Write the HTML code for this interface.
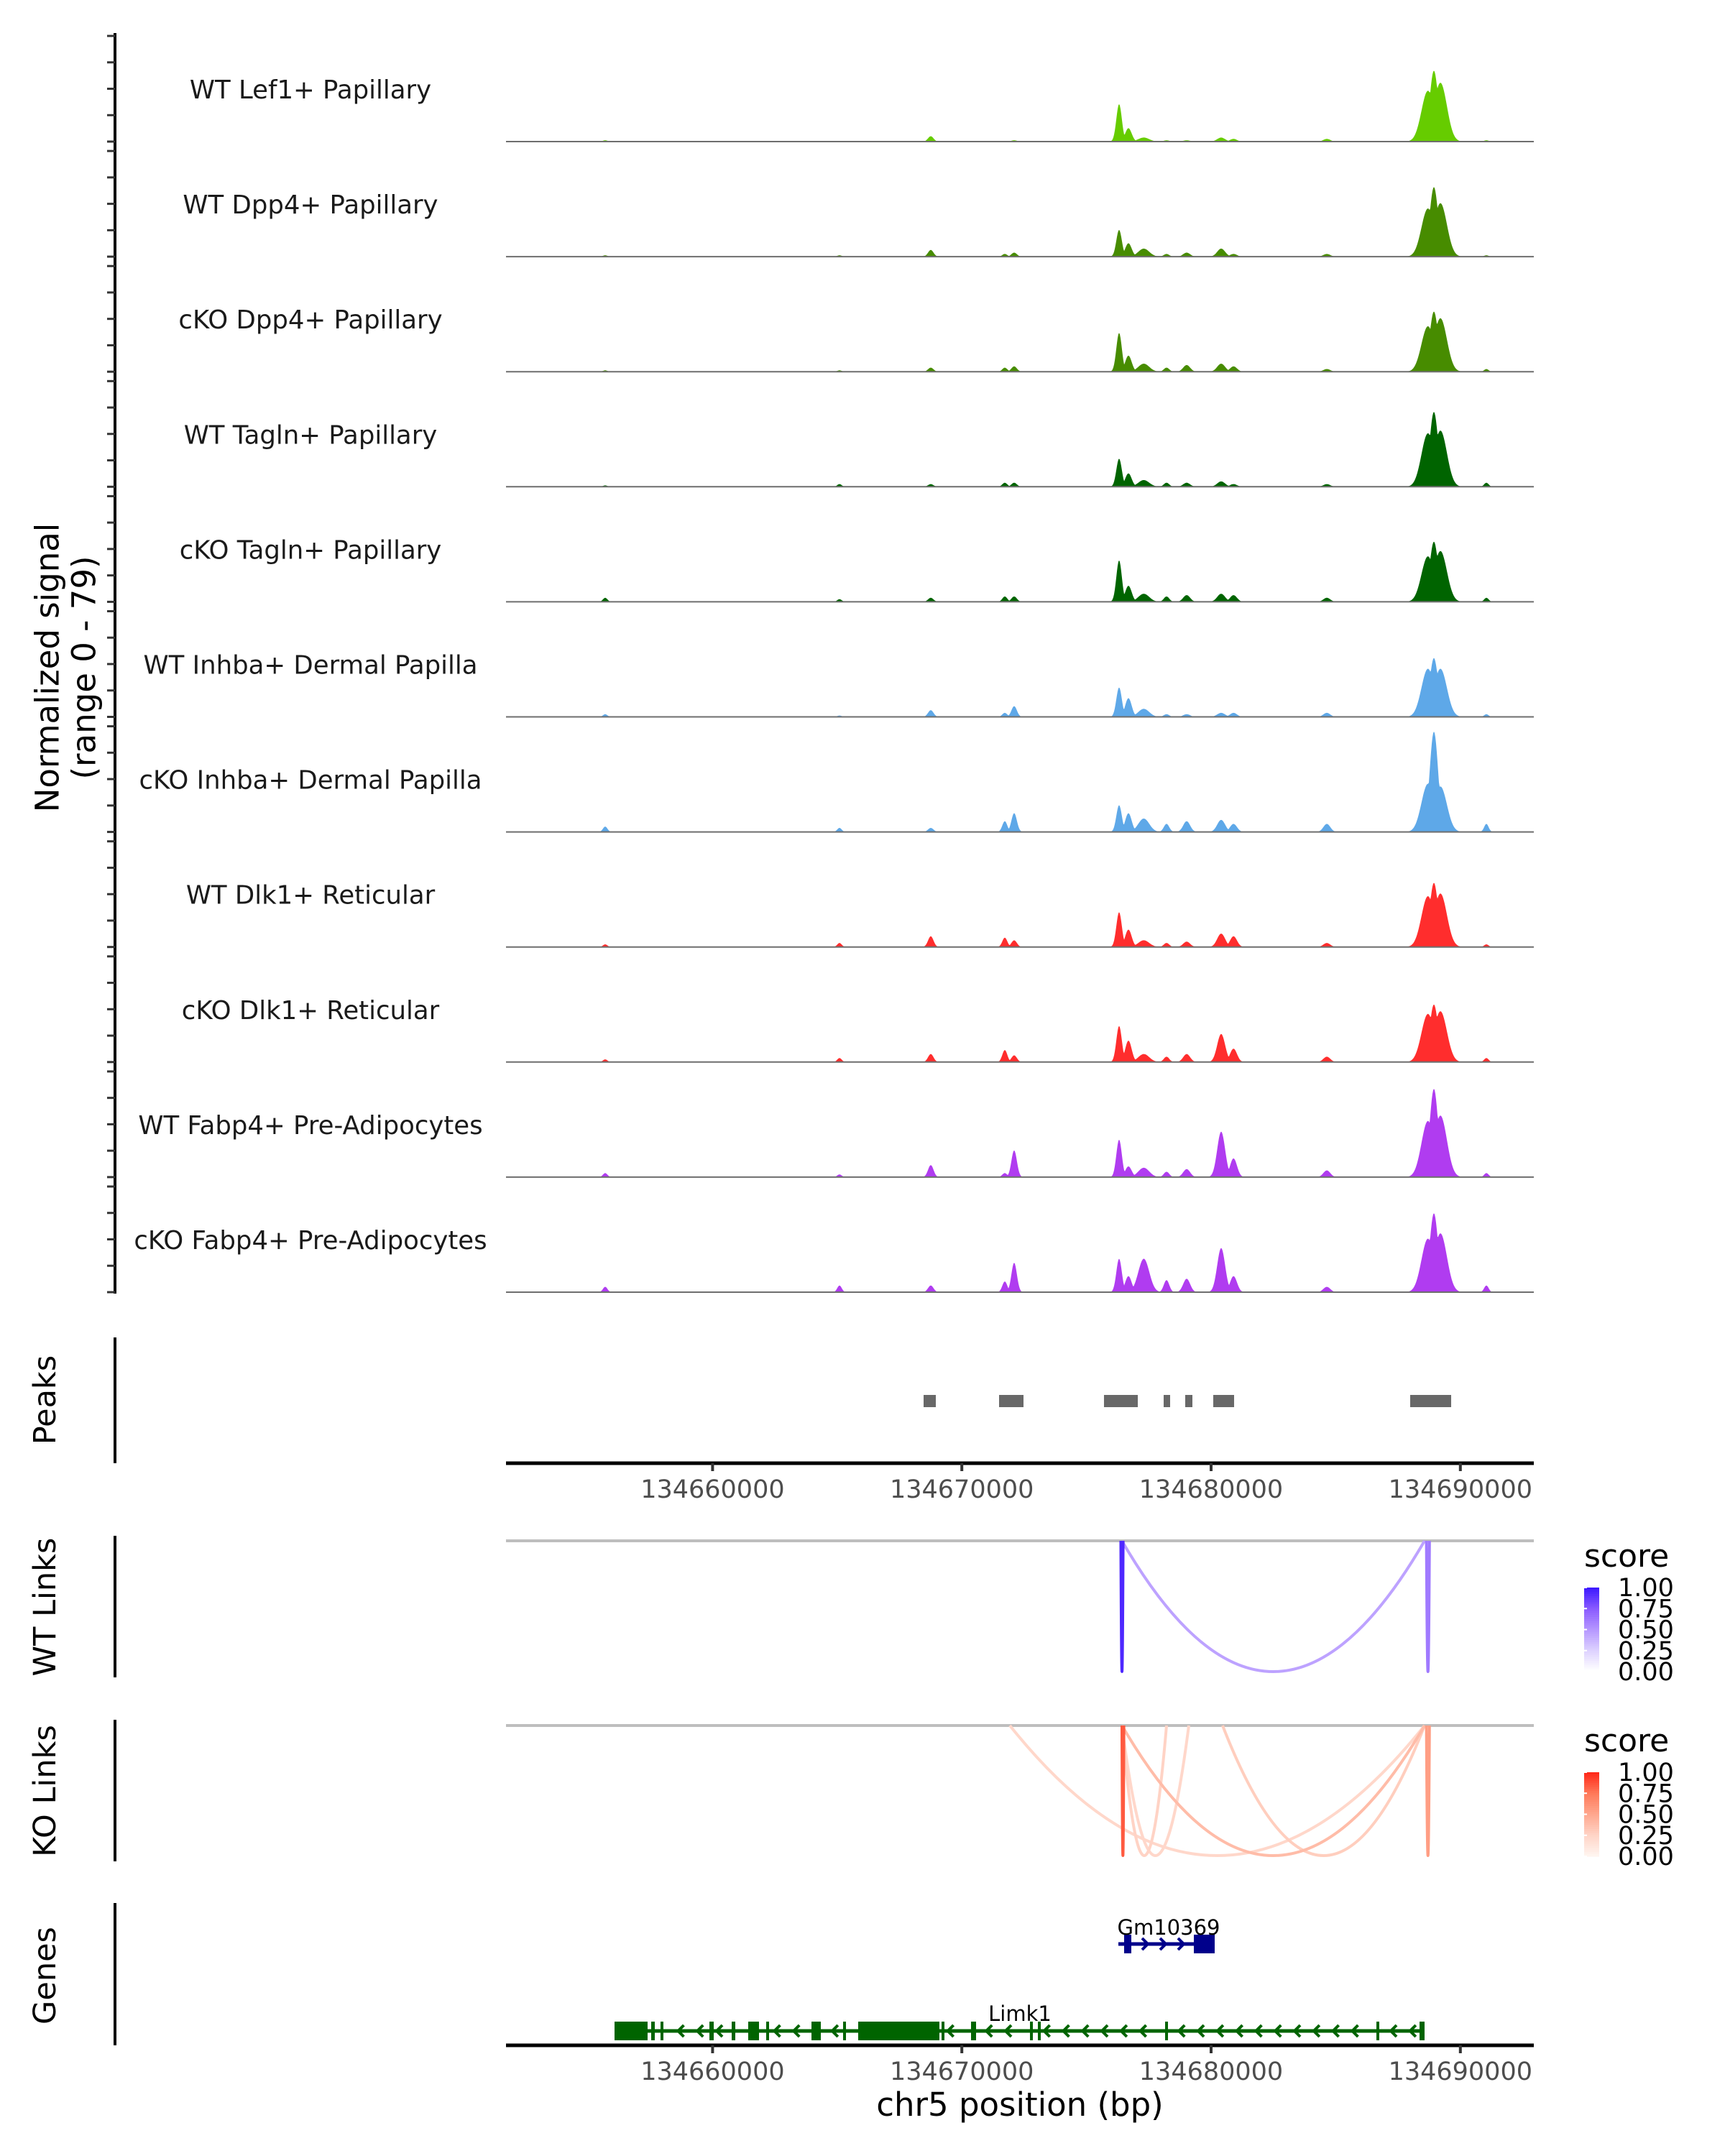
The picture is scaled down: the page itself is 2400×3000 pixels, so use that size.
<!DOCTYPE html>
<html><head><meta charset="utf-8"><style>
html,body{margin:0;padding:0;background:#fff;}
svg{display:block;font-family:"DejaVu Sans","Liberation Sans",sans-serif;}
</style></head><body>
<svg id="fig" width="2400" height="3000" viewBox="0 0 2400 3000" xmlns="http://www.w3.org/2000/svg">
<rect width="2400" height="3000" fill="#fff"/>
<g id="g-axes"></g>
<g id="g-tracks"></g>
<g id="g-peaks"></g>
<g id="g-links"></g>
<g id="g-genes"></g>
<text x="66" y="929" transform="rotate(-90 66 929)" text-anchor="middle" dominant-baseline="central" font-size="45" fill="#000">Normalized signal</text>
<text x="117" y="929" transform="rotate(-90 117 929)" text-anchor="middle" dominant-baseline="central" font-size="45" fill="#000">(range 0 - 79)</text>
<text x="63" y="1948" transform="rotate(-90 63 1948)" text-anchor="middle" dominant-baseline="central" font-size="43" fill="#000">Peaks</text>
<text x="63" y="2236" transform="rotate(-90 63 2236)" text-anchor="middle" dominant-baseline="central" font-size="43" fill="#000">WT Links</text>
<text x="63" y="2492" transform="rotate(-90 63 2492)" text-anchor="middle" dominant-baseline="central" font-size="43" fill="#000">KO Links</text>
<text x="63" y="2749" transform="rotate(-90 63 2749)" text-anchor="middle" dominant-baseline="central" font-size="43" fill="#000">Genes</text>
<text x="1419" y="2944" text-anchor="middle" font-size="45" fill="#000">chr5 position (bp)</text>
</svg>
<script>
const NS="http://www.w3.org/2000/svg";
// ---- data ----
const xTicks=[134660000,134670000,134680000,134690000];
const trackNames=["WT Lef1+ Papillary","WT Dpp4+ Papillary","cKO Dpp4+ Papillary","WT Tagln+ Papillary","cKO Tagln+ Papillary","WT Inhba+ Dermal Papilla","cKO Inhba+ Dermal Papilla","WT Dlk1+ Reticular","cKO Dlk1+ Reticular","WT Fabp4+ Pre-Adipocytes","cKO Fabp4+ Pre-Adipocytes"];
const trackColors=["#66cc00","#478c00","#478c00","#006400","#006400","#5ea8e8","#5ea8e8","#ff2d2d","#ff2d2d","#b03cf0","#b03cf0"];
const sites=[134655692,134665092,134668754,134671724,134672099,134676309,134676684,134677300,134678212,134679020,134680404,134680900,134684643,134688700,134688939,134689200,134691044];
const siteWidths=[90,90,110,100,110,110,130,220,110,140,160,140,140,260,170,260,90];
const sig1=[1,0,4,0,1,28,10,3,1,1,3,2,2,38,53,44,1];
const sig2=[1,1,5,2,3,20,10,6,2,3,6,2,2,36,52,40,1];
const sig3=[1,1,3,3,4,29,12,6,3,5,6,4,2,34,45,40,2];
const sig4=[1,2,2,3,3,21,10,5,3,3,4,2,2,40,56,42,3];
const sig5=[3,2,3,4,4,31,12,6,4,5,6,5,3,34,45,38,3];
const sig6=[2,1,5,3,8,22,14,6,2,2,3,3,3,36,44,36,2];
const sig7=[4,3,3,8,14,20,14,10,6,8,9,6,6,36,75,34,6];
const sig8=[2,3,8,7,5,26,13,5,3,4,10,8,3,38,48,40,2];
const sig9=[2,3,6,9,5,27,16,6,4,6,21,10,4,36,43,38,3];
const sig10=[3,2,9,3,20,28,8,7,4,6,34,14,5,42,66,46,3];
const sig11=[4,5,5,8,22,25,12,25,9,10,33,12,4,40,59,44,5];
const peakStarts=[134668466,134671494,134675703,134678097,134678962,134680087,134687987];
const peakEnds=[134668956,134672474,134677059,134678356,134679250,134680923,134689631];
const wtLinkStart=[134676380,134676424,134688640];
const wtLinkEnd=[134676470,134688564,134688760];
const wtLinkScore=[0.95,0.45,0.62];
const koLinkStart=[134671926,134676424,134676424,134676424,134676424,134680461,134688640];
const koLinkEnd=[134688564,134676500,134688564,134678212,134679106,134688564,134688760];
const koLinkScore=[0.22,0.85,0.38,0.25,0.22,0.28,0.55];
const legendTicks=["1.00","0.75","0.50","0.25","0.00"];
const limk1Exons=[[134656067,134657393],[134657537,134657682],[134657912,134657970],[134659873,134660046],[134660767,134660911],[134661430,134661863],[134662151,134662238],[134663968,134664343],[134665236,134665352],[134665842,134669100],[134669187,134669302],[134670369,134670571],[134672734,134672849],[134673051,134673137],[134678155,134678241],[134686632,134686719],[134688362,134688564]];
const gmExons=[[134676511,134676799],[134679308,134680144]];
const signals=[sig1,sig2,sig3,sig4,sig5,sig6,sig7,sig8,sig9,sig10,sig11];

// ---- scales ----
const X0=704,X1=2134;
function xs(bp){return 1685+(bp-134680000)*0.03468;}
const UNIT=147/79;
function baseY(i){return 197+160.1*i;}
function el(tag,attrs,parent){const e=document.createElementNS(NS,tag);for(const k in attrs)e.setAttribute(k,attrs[k]);parent.appendChild(e);return e;}
function lerpHex(a,b,t){const pa=[1,3,5].map(i=>parseInt(a.substr(i,2),16)),pb=[1,3,5].map(i=>parseInt(b.substr(i,2),16));return "rgb("+pa.map((v,i)=>Math.round(v+(pb[i]-v)*t)).join(",")+")";}
const blueStops=["#ffffff","#dcd0ff","#b596ff","#8a5cff","#3f1bff"];
const redStops=["#fff4ef","#ffd3c5","#ffa78e","#ff7a5a","#ff2a1a"];
function cscale(stops,s){const p=Math.max(0,Math.min(1,s))*4;const i=Math.min(3,Math.floor(p));return lerpHex(stops[i],stops[i+1],p-i);}

const gA=document.getElementById("g-axes"),gT=document.getElementById("g-tracks"),gP=document.getElementById("g-peaks"),gL=document.getElementById("g-links"),gG=document.getElementById("g-genes");

let a=el("line",{x1:160,y1:46,x2:160,y2:1800,stroke:"#000","stroke-width":4},gA);


for(let i=0;i<11;i++){for(let k=0;k<5;k++){const y=baseY(i)-k*36.75;const t=el("line",{x1:149,y1:y,x2:160,y2:y,stroke:"#333","stroke-width":3},gA);

}}
[[1861,2036,"peaks-axis"],[2137,2334,"wt-links-axis"],[2393,2590,"ko-links-axis"],[2648,2846,"genes-axis"]].forEach(p=>{const l=el("line",{x1:160,y1:p[0],x2:160,y2:p[1],stroke:"#000","stroke-width":4},gA);

});
[2036,2846].forEach((y,j)=>{const l=el("line",{x1:X0,y1:y,x2:X1,y2:y,stroke:"#000","stroke-width":5},gA);


xTicks.forEach(v=>{const x=xs(v);const t=el("line",{x1:x,y1:y,x2:x,y2:y+11,stroke:"#333","stroke-width":4},gA);


const tx=el("text",{x:x,y:y+48,"text-anchor":"middle","font-size":35,fill:"#4d4d4d"},gA);tx.textContent=v;

});});

signals.forEach((vals,i)=>{const by=baseY(i);const g=el("g",{},gT);


let d="M"+X0+","+by;
for(let x=X0;x<=X1;x+=1){let v=0;for(let s=0;s<sites.length;s++){const dx=(x-xs(sites[s]))/(siteWidths[s]*0.03468);const k=vals[s]*Math.exp(-0.5*dx*dx);if(k>v)v=k;}
d+=" L"+x+","+(by-v*UNIT).toFixed(1);}
d+=" L"+X1+","+by+" Z";
const p=el("path",{d:d,fill:trackColors[i]},g);


const bl=el("line",{x1:X0,y1:by,x2:X1,y2:by,stroke:"#6e6e6e","stroke-width":2},g);


const lb=el("text",{x:432,y:by-60,"text-anchor":"middle","font-size":35.5,fill:"#1a1a1a"},g);lb.textContent=trackNames[i];

});

peakStarts.forEach((s,i)=>{const r=el("rect",{x:xs(s),y:1941,width:Math.max(3,xs(peakEnds[i])-xs(s)),height:17,fill:"#686868"},gP);

});

function drawLinks(starts,ends,scores,top,depth,stops,name){
 const base=el("line",{x1:X0,y1:top,x2:X1,y2:top,stroke:"#bebebe","stroke-width":4},gL);
 
 
 const order=scores.map((s,i)=>i).sort((p,q)=>scores[p]-scores[q]);
 order.forEach(i=>{const x1=xs(starts[i]),x2=xs(ends[i]);const mx=(x1+x2)/2;
 const p=el("path",{d:`M${x1},${top} Q${mx},${top+2*depth} ${x2},${top}`,fill:"none",stroke:cscale(stops,scores[i]),"stroke-width":4},gL);
 
 });
}
drawLinks(wtLinkStart,wtLinkEnd,wtLinkScore,2144,182,blueStops,"wt-link");
drawLinks(koLinkStart,koLinkEnd,koLinkScore,2401,181,redStops,"ko-link");

function legend(y0,stops,name){
 const g=el("g",{},gL);
 
 
 const t=el("text",{x:2204,y:y0,"font-size":44,fill:"#000"},g);t.textContent="score";
 
 
 const barTop=y0+29,barH=117;
 for(let k=0;k<40;k++){const r=el("rect",{x:2204,y:barTop+k*barH/40,width:21,height:barH/40+0.6,fill:cscale(stops,1-k/39)},g);
 
 }
 legendTicks.forEach((lab,k)=>{const y=barTop+k*barH/4;
 const tk=el("line",{x1:2204,y1:y,x2:2208,y2:y,stroke:"#fff","stroke-width":2},g);
 
 
 const tx=el("text",{x:2251,y:y+12,"font-size":35,fill:"#000"},g);tx.textContent=lab;
 
 });
}
legend(2180,blueStops,"wt-score-legend");
legend(2437,redStops,"ko-score-legend");

function gene(name,start,end,exons,y,color,strand,labelX,labelY){
 const g=el("g",{},gG);
 
 
 const l=el("line",{x1:xs(start),y1:y,x2:xs(end),y2:y,stroke:color,"stroke-width":5},g);
 
 
 const step=strand>0?25:26.8;
 for(let x=xs(start)+12;x<xs(end)-6;x+=step){let inEx=exons.some(e=>x>xs(e[0])-6&&x<xs(e[1])+6);if(inEx)continue;
 const d=strand>0?`M${x-4},${y-8} L${x+4},${y} L${x-4},${y+8}`:`M${x+4},${y-8} L${x-4},${y} L${x+4},${y+8}`;
 const c=el("path",{d:d,fill:"none",stroke:color,"stroke-width":4},g);
 
 }
 exons.forEach(e=>{const r=el("rect",{x:xs(e[0]),y:y-13,width:Math.max(4,xs(e[1])-xs(e[0])),height:26,fill:color},g);
 
 });
 const t=el("text",{x:labelX,y:labelY,"text-anchor":"middle","font-size":29,fill:"#000"},g);t.textContent=name;
 
 
}
gene("Gm10369",134676280,134680144,gmExons,2705,"#00008b",1,1626,2692);
gene("Limk1",134656067,134688564,limk1Exons,2826,"#006400",-1,1419,2812);
</script>
</body></html>
